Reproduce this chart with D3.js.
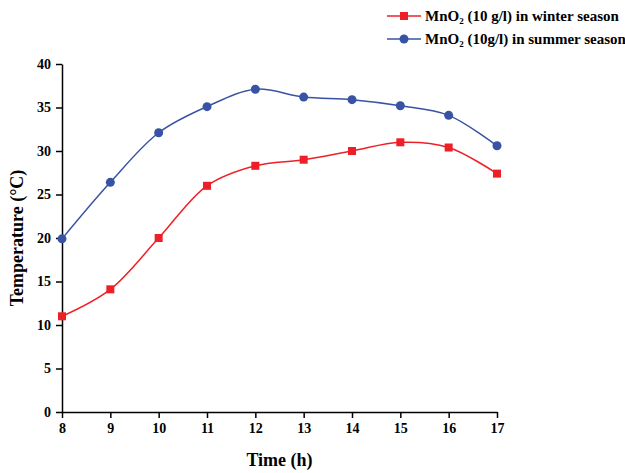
<!DOCTYPE html>
<html>
<head>
<meta charset="utf-8">
<script src="https://cdn.jsdelivr.net/npm/d3@7"></script>
<style>
  body { margin: 0; background: #fff; }
  text { font-family: "Liberation Serif", "Times New Roman", serif; font-weight: bold; fill: #000; }
</style>
</head>
<body>
<div id="vis"></div>
<script>
const hours = [8, 9, 10, 11, 12, 13, 14, 15, 16, 17];
const winter = [11, 14.1, 20, 26, 28.3, 29, 30, 31, 30.4, 27.4];
const summer = [19.9, 26.4, 32.1, 35.1, 37.1, 36.2, 35.9, 35.2, 34.1, 30.6];
const yTicks = [0, 5, 10, 15, 20, 25, 30, 35, 40];

const width = 625;
const height = 473;
const margin = { top: 64, right: 128, bottom: 61, left: 62 };

const svg = d3.select("#vis").append("svg")
  .attr("width", width)
  .attr("height", height);

const x = d3.scaleLinear().domain([8, 17]).range([margin.left, width - margin.right]);
const y = d3.scaleLinear().domain([0, 40]).range([height - margin.bottom, margin.top]);

// axes
const xAxis = svg.append("g")
  .attr("transform", `translate(0,${height - margin.bottom})`)
  .call(d3.axisBottom(x).tickValues(hours).tickSize(6).tickSizeOuter(0).tickPadding(5));
const yAxis = svg.append("g")
  .attr("transform", `translate(${margin.left},0)`)
  .call(d3.axisLeft(y).tickValues(yTicks).tickSize(6).tickSizeOuter(0).tickPadding(5));

[xAxis, yAxis].forEach((g) => {
  g.select(".domain").attr("stroke", "#000").attr("stroke-width", 1.5);
  g.selectAll(".tick line").attr("stroke", "#000").attr("stroke-width", 1.5);
  g.selectAll(".tick text").style("font-size", "14px").style("font-family", "Liberation Serif").style("font-weight", "bold");
});

// titles
svg.append("text")
  .attr("x", (margin.left + width - margin.right) / 2)
  .attr("y", 466)
  .attr("text-anchor", "middle")
  .style("font-size", "18px")
  .text("Time (h)");

svg.append("text")
  .attr("transform", `translate(23,${(margin.top + height - margin.bottom) / 2}) rotate(-90)`)
  .attr("text-anchor", "middle")
  .style("font-size", "18px")
  .text("Temperature (°C)");

const series = [
  { name: "winter", values: winter, color: "#ee2027", shape: "square" },
  { name: "summer", values: summer, color: "#3953a4", shape: "circle" },
];

const line = d3.line()
  .x((d) => x(d[0]))
  .y((d) => y(d[1]))
  .curve(d3.curveCatmullRom.alpha(0.5));

series.forEach((s) => {
  const pts = hours.map((h, i) => [h, s.values[i]]);
  svg.append("path")
    .datum(pts)
    .attr("fill", "none")
    .attr("stroke", s.color)
    .attr("stroke-width", 1.5)
    .attr("d", line);

  if (s.shape === "square") {
    svg.selectAll(null).data(pts).enter().append("rect")
      .attr("x", (d) => x(d[0]) - 4)
      .attr("y", (d) => y(d[1]) - 4)
      .attr("width", 8)
      .attr("height", 8)
      .attr("fill", s.color);
  } else {
    svg.selectAll(null).data(pts).enter().append("circle")
      .attr("cx", (d) => x(d[0]))
      .attr("cy", (d) => y(d[1]))
      .attr("r", 4.5)
      .attr("fill", s.color);
  }
});

// legend
const legend = [
  { color: "#ee2027", shape: "square", label: " (10 g/l) in winter season", yPos: 16 },
  { color: "#3953a4", shape: "circle", label: " (10g/l) in summer season", yPos: 39 },
];

legend.forEach((l) => {
  const g = svg.append("g");
  g.append("line")
    .attr("x1", 387).attr("x2", 421)
    .attr("y1", l.yPos).attr("y2", l.yPos)
    .attr("stroke", l.color).attr("stroke-width", 1.5);
  if (l.shape === "square") {
    g.append("rect").attr("x", 400).attr("y", l.yPos - 4).attr("width", 8).attr("height", 8).attr("fill", l.color);
  } else {
    g.append("circle").attr("cx", 404).attr("cy", l.yPos).attr("r", 4.5).attr("fill", l.color);
  }
  const t = g.append("text")
    .attr("x", 425)
    .attr("y", l.yPos + 5)
    .style("font-size", "15px");
  t.append("tspan").text("MnO");
  t.append("tspan").attr("dy", 3).style("font-size", "9px").text("2");
  t.append("tspan").attr("dy", -3).text(l.label);
});
</script>
</body>
</html>
